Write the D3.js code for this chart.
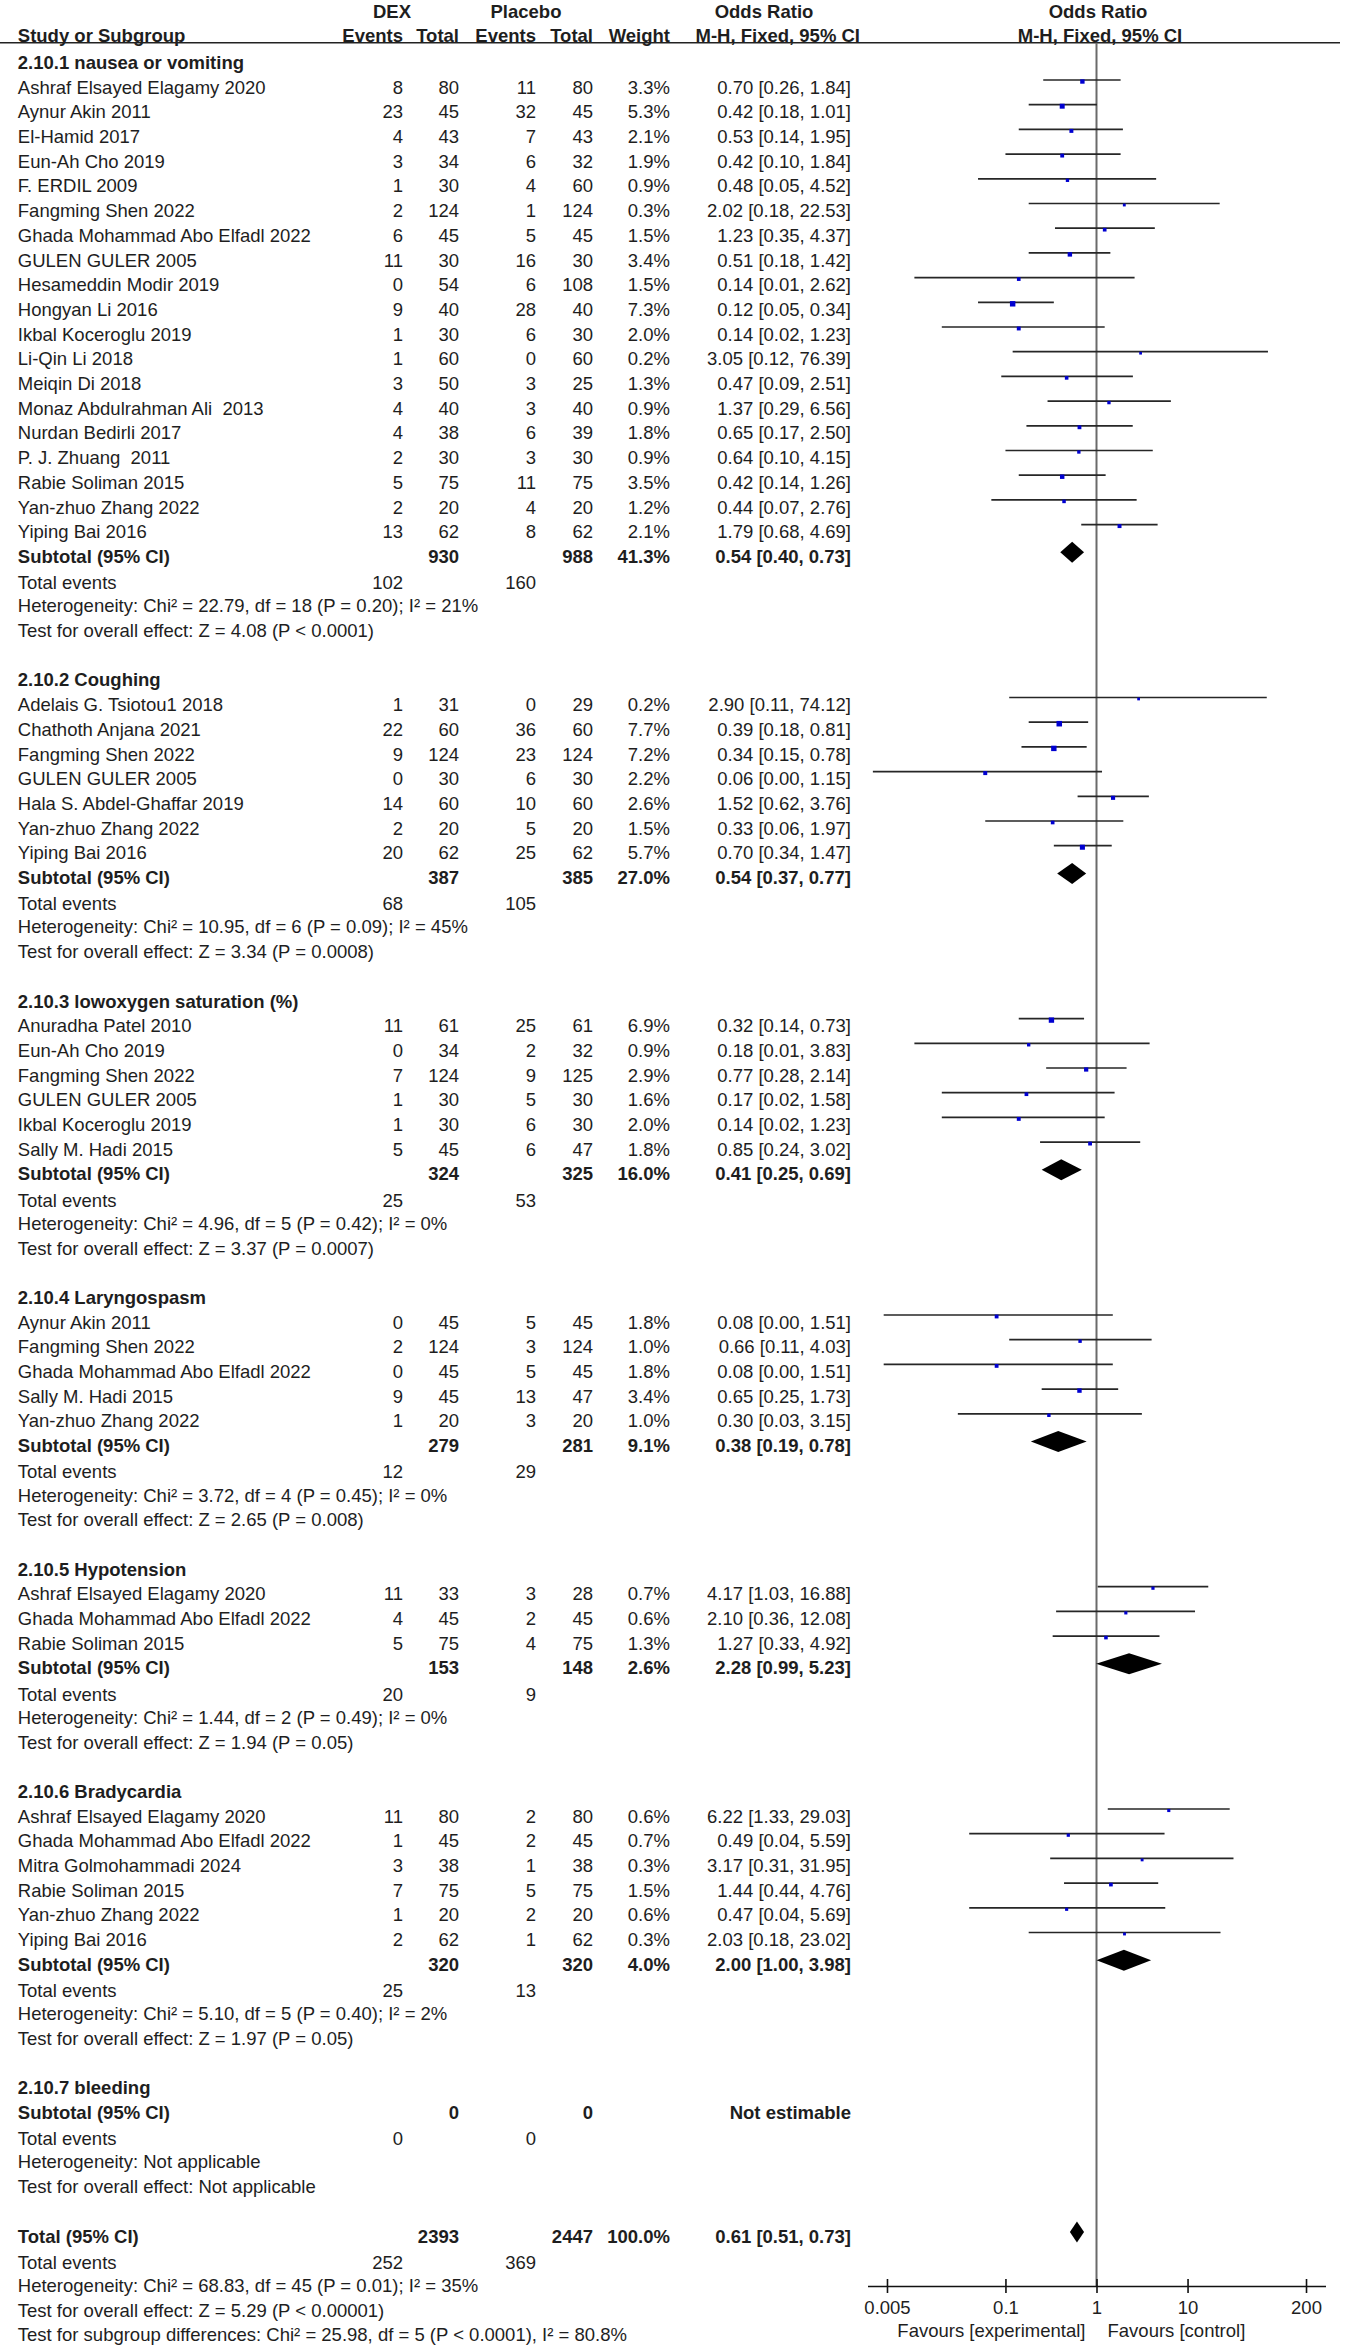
<!DOCTYPE html>
<html><head><meta charset="utf-8">
<script src="https://cdn.jsdelivr.net/npm/d3@7"></script>
<style>
body{margin:0;background:#fff}
svg{display:block}
text{font-family:"Liberation Sans",Arial,Helvetica,sans-serif;font-size:18.5px;fill:#1e1e1e;white-space:pre}
</style>
</head><body>
<svg id="chart" width="1349" height="2346"></svg>
<script>
// ---------------- DATA ----------------
const subgroupTitles = [
  "2.10.1 nausea or vomiting", "2.10.2 Coughing", "2.10.3 lowoxygen saturation (%)",
  "2.10.4 Laryngospasm", "2.10.5 Hypotension", "2.10.6 Bradycardia", "2.10.7 bleeding"];

const studyGroup = [0,0,0,0,0,0,0,0,0,0,0,0,0,0,0,0,0,0,0, 1,1,1,1,1,1,1, 2,2,2,2,2,2, 3,3,3,3,3, 4,4,4, 5,5,5,5,5,5];
const studyNames = [
  "Ashraf Elsayed Elagamy 2020","Aynur Akin 2011","El-Hamid 2017","Eun-Ah Cho 2019","F. ERDIL 2009",
  "Fangming Shen 2022","Ghada Mohammad Abo Elfadl 2022","GULEN GULER 2005","Hesameddin Modir 2019",
  "Hongyan Li 2016","Ikbal Koceroglu 2019","Li-Qin Li 2018","Meiqin Di 2018","Monaz Abdulrahman Ali  2013",
  "Nurdan Bedirli 2017","P. J. Zhuang  2011","Rabie Soliman 2015","Yan-zhuo Zhang 2022","Yiping Bai 2016",
  "Adelais G. Tsiotou1 2018","Chathoth Anjana 2021","Fangming Shen 2022","GULEN GULER 2005",
  "Hala S. Abdel-Ghaffar 2019","Yan-zhuo Zhang 2022","Yiping Bai 2016",
  "Anuradha Patel 2010","Eun-Ah Cho 2019","Fangming Shen 2022","GULEN GULER 2005","Ikbal Koceroglu 2019","Sally M. Hadi 2015",
  "Aynur Akin 2011","Fangming Shen 2022","Ghada Mohammad Abo Elfadl 2022","Sally M. Hadi 2015","Yan-zhuo Zhang 2022",
  "Ashraf Elsayed Elagamy 2020","Ghada Mohammad Abo Elfadl 2022","Rabie Soliman 2015",
  "Ashraf Elsayed Elagamy 2020","Ghada Mohammad Abo Elfadl 2022","Mitra Golmohammadi 2024","Rabie Soliman 2015",
  "Yan-zhuo Zhang 2022","Yiping Bai 2016"];
const dexEvents = [8,23,4,3,1,2,6,11,0,9,1,1,3,4,4,2,5,2,13, 1,22,9,0,14,2,20, 11,0,7,1,1,5, 0,2,0,9,1, 11,4,5, 11,1,3,7,1,2];
const dexTotals = [80,45,43,34,30,124,45,30,54,40,30,60,50,40,38,30,75,20,62, 31,60,124,30,60,20,62, 61,34,124,30,30,45, 45,124,45,45,20, 33,45,75, 80,45,38,75,20,62];
const pboEvents = [11,32,7,6,4,1,5,16,6,28,6,0,3,3,6,3,11,4,8, 0,36,23,6,10,5,25, 25,2,9,5,6,6, 5,3,5,13,3, 3,2,4, 2,2,1,5,2,1];
const pboTotals = [80,45,43,32,60,124,45,30,108,40,30,60,25,40,39,30,75,20,62, 29,60,124,30,60,20,62, 61,32,125,30,30,47, 45,124,45,47,20, 28,45,75, 80,45,38,75,20,62];
const weights = [3.3,5.3,2.1,1.9,0.9,0.3,1.5,3.4,1.5,7.3,2.0,0.2,1.3,0.9,1.8,0.9,3.5,1.2,2.1,
  0.2,7.7,7.2,2.2,2.6,1.5,5.7, 6.9,0.9,2.9,1.6,2.0,1.8, 1.8,1.0,1.8,3.4,1.0, 0.7,0.6,1.3, 0.6,0.7,0.3,1.5,0.6,0.3];
const oddsRatios = [0.70,0.42,0.53,0.42,0.48,2.02,1.23,0.51,0.14,0.12,0.14,3.05,0.47,1.37,0.65,0.64,0.42,0.44,1.79,
  2.90,0.39,0.34,0.06,1.52,0.33,0.70, 0.32,0.18,0.77,0.17,0.14,0.85, 0.08,0.66,0.08,0.65,0.30, 4.17,2.10,1.27, 6.22,0.49,3.17,1.44,0.47,2.03];
// lower limits shown as 0.00 are estimated from the drawn whiskers
const ciLow = [0.26,0.18,0.14,0.10,0.05,0.18,0.35,0.18,0.01,0.05,0.02,0.12,0.09,0.29,0.17,0.10,0.14,0.07,0.68,
  0.11,0.18,0.15,0.0035,0.62,0.06,0.34, 0.14,0.01,0.28,0.02,0.02,0.24, 0.0046,0.11,0.0046,0.25,0.03, 1.03,0.36,0.33, 1.33,0.04,0.31,0.44,0.04,0.18];
const ciHigh = [1.84,1.01,1.95,1.84,4.52,22.53,4.37,1.42,2.62,0.34,1.23,76.39,2.51,6.56,2.50,4.15,1.26,2.76,4.69,
  74.12,0.81,0.78,1.15,3.76,1.97,1.47, 0.73,3.83,2.14,1.58,1.23,3.02, 1.51,4.03,1.51,1.73,3.15, 16.88,12.08,4.92, 29.03,5.59,31.95,4.76,5.69,23.02];

const subDexTotals = [930,387,324,279,153,320,0];
const subPboTotals = [988,385,325,281,148,320,0];
const subWeights = [41.3,27.0,16.0,9.1,2.6,4.0,null];
const subOR = [0.54,0.54,0.41,0.38,2.28,2.00,null];
const subLow = [0.40,0.37,0.25,0.19,0.99,1.00,null];
const subHigh = [0.73,0.77,0.69,0.78,5.23,3.98,null];
const subDexEvents = [102,68,25,12,20,25,0];
const subPboEvents = [160,105,53,29,9,13,0];
const subHeterogeneity = [
  "Heterogeneity: Chi² = 22.79, df = 18 (P = 0.20); I² = 21%",
  "Heterogeneity: Chi² = 10.95, df = 6 (P = 0.09); I² = 45%",
  "Heterogeneity: Chi² = 4.96, df = 5 (P = 0.42); I² = 0%",
  "Heterogeneity: Chi² = 3.72, df = 4 (P = 0.45); I² = 0%",
  "Heterogeneity: Chi² = 1.44, df = 2 (P = 0.49); I² = 0%",
  "Heterogeneity: Chi² = 5.10, df = 5 (P = 0.40); I² = 2%",
  "Heterogeneity: Not applicable"];
const subOverall = [
  "Test for overall effect: Z = 4.08 (P < 0.0001)",
  "Test for overall effect: Z = 3.34 (P = 0.0008)",
  "Test for overall effect: Z = 3.37 (P = 0.0007)",
  "Test for overall effect: Z = 2.65 (P = 0.008)",
  "Test for overall effect: Z = 1.94 (P = 0.05)",
  "Test for overall effect: Z = 1.97 (P = 0.05)",
  "Test for overall effect: Not applicable"];

const totalDex = 2393, totalPbo = 2447, totalWeight = 100.0;
const totalOR = [0.61, 0.51, 0.73];
const totalDexEvents = 252, totalPboEvents = 369;
const totalFooter = [
  "Heterogeneity: Chi² = 68.83, df = 45 (P = 0.01); I² = 35%",
  "Test for overall effect: Z = 5.29 (P < 0.00001)",
  "Test for subgroup differences: Chi² = 25.98, df = 5 (P < 0.0001), I² = 80.8%"];

const tickValues = [0.005, 0.1, 1, 10, 200];
const tickLabels = ["0.005", "0.1", "1", "10", "200"];
const favourLabels = ["Favours [experimental]", "Favours [control]"];

// ---------------- LAYOUT ----------------
const svg = d3.select("#chart");
const F = 18.5, BASE = 6.6;
const row0 = 62.3, pitch = 24.7;
const rowY = i => row0 + i * pitch;
const col = {name: 17.8, dexE: 403, dexT: 459, pboE: 536, pboT: 593, wt: 670, or: 851};
const x = d3.scaleLog().domain([Math.pow(10, -2.515), Math.pow(10, 2.515)]).range([867.5, 1325.5]);
const f2 = d3.format(".2f"), f1 = d3.format(".1f");
const ciText = (o, l, h) => `${f2(o)} [${f2(l)}, ${f2(h)}]`;

function txt(xp, y, s, anchor = "start", bold = false) {
  svg.append("text").attr("x", xp).attr("y", y + BASE).attr("xml:space", "preserve")
    .attr("text-anchor", anchor).attr("font-weight", bold ? "bold" : null).text(s);
}

// header
txt(392, 11.7, "DEX", "middle", true);
txt(526, 11.7, "Placebo", "middle", true);
txt(764, 11.7, "Odds Ratio", "middle", true);
txt(1098, 11.7, "Odds Ratio", "middle", true);
txt(col.name, 35, "Study or Subgroup", "start", true);
txt(col.dexE, 35, "Events", "end", true);
txt(col.dexT, 35, "Total", "end", true);
txt(col.pboE, 35, "Events", "end", true);
txt(col.pboT, 35, "Total", "end", true);
txt(col.wt, 35, "Weight", "end", true);
txt(860, 35, "M-H, Fixed, 95% CI", "end", true);
txt(1100, 35, "M-H, Fixed, 95% CI", "middle", true);
svg.append("line").attr("x1", 0).attr("x2", 1340).attr("y1", 42.7).attr("y2", 42.7)
  .attr("stroke", "#222").attr("stroke-width", 1.5);

// axis & null line
const axisY = 2286;
svg.append("line").attr("x1", x(1)).attr("x2", x(1)).attr("y1", 42.7).attr("y2", axisY)
  .attr("stroke", "#6a6a6a").attr("stroke-width", 2);

const marks = svg.append("g");
let idx = 0;
const studyRows = [];
const diamonds = [];

for (let g = 0; g < subgroupTitles.length; g++) {
  txt(col.name, rowY(idx), subgroupTitles[g], "start", true);
  idx++;
  studyNames.forEach((n, i) => {
    if (studyGroup[i] !== g) return;
    const y = rowY(idx);
    txt(col.name, y, n);
    txt(col.dexE, y, dexEvents[i], "end");
    txt(col.dexT, y, dexTotals[i], "end");
    txt(col.pboE, y, pboEvents[i], "end");
    txt(col.pboT, y, pboTotals[i], "end");
    txt(col.wt, y, f1(weights[i]) + "%", "end");
    txt(col.or, y, ciText(oddsRatios[i], ciLow[i], ciHigh[i]), "end");
    studyRows.push({i, y});
    idx++;
  });
  const y = rowY(idx);
  txt(col.name, y, "Subtotal (95% CI)", "start", true);
  txt(col.dexT, y, subDexTotals[g], "end", true);
  txt(col.pboT, y, subPboTotals[g], "end", true);
  if (subOR[g] !== null) {
    txt(col.wt, y, f1(subWeights[g]) + "%", "end", true);
    txt(col.or, y, ciText(subOR[g], subLow[g], subHigh[g]), "end", true);
    diamonds.push({o: subOR[g], l: subLow[g], h: subHigh[g], y});
  } else {
    txt(col.or, y, "Not estimable", "end", true);
  }
  idx++;
  txt(col.name, rowY(idx) + 1.5, "Total events");
  txt(col.dexE, rowY(idx) + 1.5, subDexEvents[g], "end");
  txt(col.pboE, rowY(idx) + 1.5, subPboEvents[g], "end");
  idx++;
  txt(col.name, rowY(idx), subHeterogeneity[g]); idx++;
  txt(col.name, rowY(idx), subOverall[g]); idx++;
  idx++; // blank
}

// overall total
{
  const y = rowY(idx);
  txt(col.name, y, "Total (95% CI)", "start", true);
  txt(col.dexT, y, totalDex, "end", true);
  txt(col.pboT, y, totalPbo, "end", true);
  txt(col.wt, y, f1(totalWeight) + "%", "end", true);
  txt(col.or, y, ciText(totalOR[0], totalOR[1], totalOR[2]), "end", true);
  diamonds.push({o: totalOR[0], l: totalOR[1], h: totalOR[2], y});
  idx++;
  txt(col.name, rowY(idx) + 1.5, "Total events");
  txt(col.dexE, rowY(idx) + 1.5, totalDexEvents, "end");
  txt(col.pboE, rowY(idx) + 1.5, totalPboEvents, "end");
  idx++;
  totalFooter.forEach(s => { txt(col.name, rowY(idx), s); idx++; });
}

// study CIs and squares
const clip = v => Math.max(x.domain()[0], Math.min(x.domain()[1], v));
marks.selectAll("line.ci").data(studyRows).join("line").attr("class", "ci")
  .attr("x1", d => x(clip(ciLow[d.i]))).attr("x2", d => x(clip(ciHigh[d.i])))
  .attr("y1", d => d.y - 7).attr("y2", d => d.y - 7)
  .attr("stroke", "#262626").attr("stroke-width", 1.7);
const side = w => 2.2 + 1.2 * Math.sqrt(w);
marks.selectAll("rect.sq").data(studyRows).join("rect").attr("class", "sq")
  .attr("x", d => x(oddsRatios[d.i]) - side(weights[d.i]) / 2)
  .attr("y", d => d.y - 5.5 - side(weights[d.i]) / 2)
  .attr("width", d => side(weights[d.i])).attr("height", d => side(weights[d.i]))
  .attr("fill", "#0000d0");
marks.selectAll("path.dia").data(diamonds).join("path").attr("class", "dia")
  .attr("d", d => {
    const yc = d.y - 4, h = 10.5;
    return `M${x(d.l)},${yc}L${x(d.o)},${yc - h}L${x(d.h)},${yc}L${x(d.o)},${yc + h}Z`;
  }).attr("fill", "#000");

// axis
const axis = d3.axisBottom(x).tickValues(tickValues).tickFormat((d, i) => tickLabels[i])
  .tickSizeInner(7).tickSizeOuter(0);
const ag = svg.append("g").attr("transform", `translate(0,${axisY})`).call(axis);
ag.select(".domain").attr("stroke", "#111").attr("stroke-width", 1.6);
ag.selectAll(".tick line").attr("y1", -7).attr("y2", 7).attr("stroke", "#111").attr("stroke-width", 1.6);
ag.selectAll(".tick text").attr("y", 21 + BASE).attr("dy", null)
  .style("font-size", F + "px").attr("fill", "#1e1e1e")
  .style("font-family", '"Liberation Sans",Arial,sans-serif');
txt(x(1) - 11, 2330, favourLabels[0], "end");
txt(x(1) + 11, 2330, favourLabels[1], "start");
</script>
</body></html>
